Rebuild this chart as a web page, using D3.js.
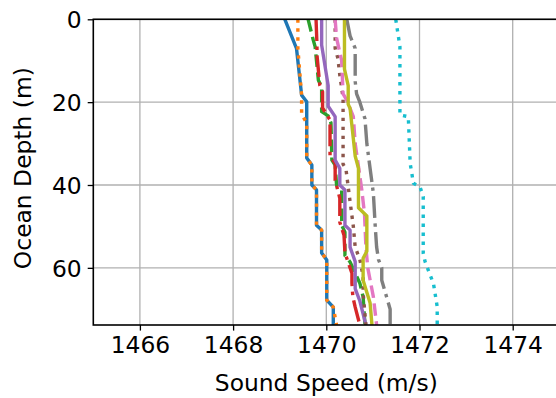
<!DOCTYPE html>
<html>
<head>
<meta charset="utf-8">
<script src="https://cdn.jsdelivr.net/npm/d3@7"></script>
<style>
  body { margin: 0; background: #fff; }
  svg { display: block; font-family: "DejaVu Sans", sans-serif; }
</style>
</head>
<body>
<script>
// sound speed profiles: [speed (m/s), depth (m)]
const series1 = [[1469.11, 0], [1469.36, 7], [1469.47, 18.3], [1469.58, 19.9], [1469.58, 33.5], [1469.69, 35.2], [1469.69, 40], [1469.79, 41.2], [1469.79, 49.7], [1469.90, 50.9], [1469.90, 56.4], [1470.01, 58.1], [1470.01, 67.8], [1470.15, 69.5], [1470.15, 73.8]];
const series2 = [[1469.39, 0], [1469.39, 7], [1469.47, 18.3], [1469.47, 23], [1469.58, 25], [1469.58, 33.5], [1469.69, 35.2], [1469.69, 40], [1469.79, 41.2], [1469.79, 49.7], [1469.90, 50.9], [1469.90, 56.4], [1470.01, 58.1], [1470.01, 67.8], [1470.15, 69.5], [1470.22, 73.8]];
const series3 = [[1469.61, 0], [1469.72, 5], [1469.76, 6.6], [1469.83, 14.7], [1469.90, 16.3], [1469.90, 22.3], [1470.04, 23.3], [1470.10, 25], [1470.12, 34], [1470.19, 35.2], [1470.22, 40], [1470.33, 41.2], [1470.33, 49.7], [1470.40, 51.4], [1470.40, 57], [1470.51, 58.6], [1470.72, 63.7], [1470.79, 67], [1470.83, 73.8]];
const series4 = [[1469.78, 0], [1469.80, 6.2], [1469.80, 8.6], [1469.86, 15.9], [1469.92, 17.5], [1469.92, 21.4], [1470.08, 24.3], [1470.08, 33.2], [1470.19, 34.7], [1470.19, 38.8], [1470.29, 43.2], [1470.29, 49], [1470.38, 52.1], [1470.40, 56.4], [1470.55, 61.3], [1470.55, 63.7], [1470.57, 67], [1470.62, 69.5], [1470.72, 73.8]];
const series5 = [[1469.90, 0], [1469.90, 6.2], [1470.04, 16], [1470.04, 21], [1470.19, 23.5], [1470.19, 34], [1470.29, 36], [1470.29, 40], [1470.40, 41.2], [1470.40, 49.7], [1470.51, 50.9], [1470.51, 55], [1470.62, 58.5], [1470.62, 65], [1470.72, 68], [1470.85, 73.8]];
const series6 = [[1470.19, 0], [1470.19, 7], [1470.25, 9.5], [1470.29, 13.5], [1470.36, 19], [1470.36, 35], [1470.42, 36], [1470.51, 44], [1470.58, 50], [1470.62, 55], [1470.72, 58], [1470.79, 62], [1470.79, 66], [1470.85, 73.8]];
const series7 = [[1470.19, 0], [1470.22, 4.5], [1470.33, 10], [1470.36, 18], [1470.44, 19.5], [1470.58, 23.5], [1470.62, 30], [1470.76, 41], [1470.82, 47], [1470.85, 55], [1470.89, 60], [1471.01, 67], [1471.08, 73.8]];
const series8 = [[1470.44, 0], [1470.51, 4], [1470.62, 7], [1470.62, 15], [1470.65, 18], [1470.72, 20], [1470.83, 24], [1470.87, 30], [1470.94, 36], [1471.01, 42], [1471.05, 50], [1471.08, 55], [1471.12, 58], [1471.19, 60], [1471.19, 63], [1471.37, 70], [1471.37, 73.8]];
const series9 = [[1470.39, 0], [1470.39, 12], [1470.47, 16], [1470.47, 20.5], [1470.51, 21.5], [1470.62, 33], [1470.69, 36], [1470.69, 45.5], [1470.87, 47.5], [1470.87, 56], [1470.79, 57.7], [1470.79, 63], [1470.94, 68.5], [1470.98, 73.8]];
const series10 = [[1471.49, 0], [1471.58, 6.6], [1471.58, 23.1], [1471.76, 23.5], [1471.80, 34.8], [1471.87, 39.6], [1472.01, 40.4], [1472.08, 42.8], [1472.08, 56.5], [1472.12, 58.5], [1472.19, 60.6], [1472.30, 63.8], [1472.38, 69.4], [1472.38, 73.8]];

const allSeries = [series1, series2, series3, series4, series5, series6, series7, series8, series9, series10];
const xTicks = [1466, 1468, 1470, 1472, 1474];
const yTicks = [0, 20, 40, 60];

const width = 556;
const height = 398;
const margin = { left: 93.3, top: 19.3, right: 559.3, bottom: 325 };
const lw = 3.4;
const fontSize = '23.4px';

const colors = d3.schemeCategory10;
const dashes = ['none', `${lw} ${1.65 * lw}`, `${3.7 * lw} ${1.6 * lw}`, `${6.4 * lw} ${1.6 * lw} ${lw} ${1.6 * lw}`];

const svg = d3.select('body')
  .append('svg')
  .attr('width', width)
  .attr('height', height);

const x = d3.scaleLinear().domain([1465, 1475]).range([margin.left, margin.right]);
const y = d3.scaleLinear().domain([0, 73.8]).range([margin.top, margin.bottom]);

svg.append('defs').append('clipPath').attr('id', 'clip')
  .append('rect')
  .attr('x', margin.left).attr('y', margin.top)
  .attr('width', margin.right - margin.left).attr('height', margin.bottom - margin.top);

// Grid
const grid = svg.append('g').attr('stroke', '#b0b0b0').attr('stroke-width', 1.3);
grid.selectAll('.gx').data(xTicks).join('line')
  .attr('x1', d => x(d)).attr('x2', d => x(d))
  .attr('y1', margin.top).attr('y2', margin.bottom);
grid.selectAll('.gy').data(yTicks).join('line')
  .attr('x1', margin.left).attr('x2', margin.right)
  .attr('y1', d => y(d)).attr('y2', d => y(d));

// Lines
const line = d3.line().x(d => x(d[0])).y(d => y(d[1]));
svg.append('g').attr('clip-path', 'url(#clip)')
  .selectAll('path')
  .data(allSeries)
  .join('path')
  .attr('d', line)
  .attr('fill', 'none')
  .attr('stroke', (d, i) => colors[i])
  .attr('stroke-width', lw)
  .attr('stroke-linejoin', 'round')
  .attr('stroke-dasharray', (d, i) => dashes[i % 4]);

// Axes
const xAxis = d3.axisBottom(x).tickValues(xTicks).tickSize(5.6).tickPadding(6).tickFormat(d3.format('d'));
const yAxis = d3.axisLeft(y).tickValues(yTicks).tickSize(5.6).tickPadding(6);

const gx = svg.append('g').attr('transform', `translate(0,${margin.bottom})`).call(xAxis);
const gy = svg.append('g').attr('transform', `translate(${margin.left},0)`).call(yAxis);

[gx, gy].forEach(g => {
  g.select('.domain').remove();
  g.selectAll('.tick line').attr('stroke', '#000').attr('stroke-width', 1.3);
  g.selectAll('.tick text')
    .attr('fill', '#000')
    .style('font-family', '"DejaVu Sans", sans-serif')
    .style('font-size', fontSize);
});
gy.selectAll('.tick text').attr('dy', '0.36em');

// Spines
svg.append('rect')
  .attr('x', margin.left).attr('y', margin.top)
  .attr('width', margin.right - margin.left).attr('height', margin.bottom - margin.top)
  .attr('fill', 'none').attr('stroke', '#000').attr('stroke-width', 1.6);

// Labels
svg.append('text')
  .attr('x', (margin.left + margin.right) / 2)
  .attr('y', 391)
  .attr('text-anchor', 'middle')
  .style('font-size', fontSize)
  .text('Sound Speed (m/s)');

svg.append('text')
  .attr('transform', `translate(31,${(margin.top + margin.bottom) / 2 - 4}) rotate(-90)`)
  .attr('text-anchor', 'middle')
  .style('font-size', fontSize)
  .text('Ocean Depth (m)');
</script>
</body>
</html>
